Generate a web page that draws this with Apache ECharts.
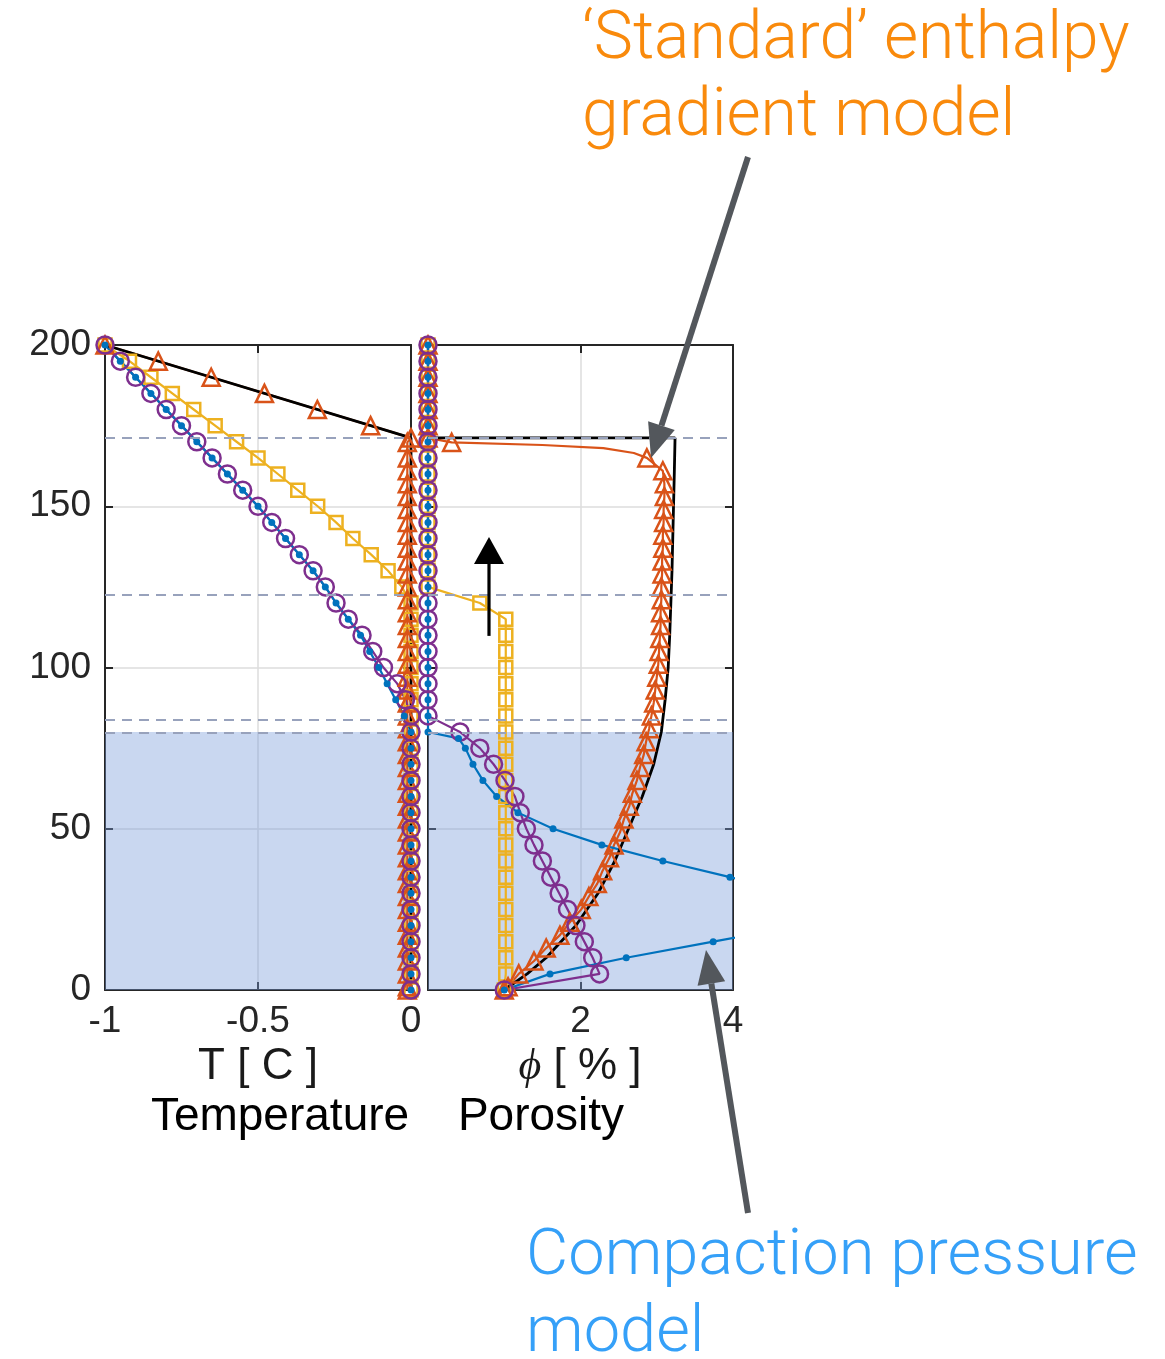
<!DOCTYPE html>
<html>
<head>
<meta charset="utf-8">
<script src="https://cdn.jsdelivr.net/npm/echarts@6/dist/echarts.min.js"></script>
<style>
  html, body { margin: 0; padding: 0; background: #fff; }
  #chart { width: 1165px; height: 1359px; }
</style>
</head>
<body>
<div id="chart"></div>
<script>
// ---- data (depth z in m, T in C, porosity in %) ----
const depthTicks = [0, 50, 100, 150, 200];
const dashedDepths = [171.2, 122.5, 83.8, 79.8];
const shadedDepth = [0, 80];

// common 5 m grid used by the yellow / purple / blue profiles
const depth5 = [200, 195, 190, 185, 180, 175, 170, 165, 160, 155, 150, 145, 140, 135, 130, 125, 120,
  115, 110, 105, 100, 95, 90, 85, 80, 75, 70, 65, 60, 55, 50, 45, 40, 35, 30, 25, 20, 15, 10, 5, 0];

const tempYellow = [-1, -0.92, -0.85, -0.78, -0.71, -0.64, -0.57, -0.5, -0.435, -0.37, -0.305, -0.245, -0.19,
  -0.13, -0.075, -0.03, 0, 0, 0, 0, 0, 0, 0, 0, 0, 0, 0, 0, 0, 0, 0, 0, 0, 0, 0, 0, 0, 0, 0, 0, 0];
const porYellow = [0, 0, 0, 0, 0, 0, 0, 0, 0, 0, 0, 0, 0, 0, 0, 0, 0.68, 1.02, 1.02, 1.02, 1.02, 1.02, 1.02,
  1.02, 1.02, 1.02, 1.02, 1.02, 1.02, 1.02, 1.02, 1.02, 1.02, 1.02, 1.02, 1.02, 1.02, 1.02, 1.02, 1.02, 1.0];

const tempPurple = [-1, -0.95, -0.9, -0.85, -0.8, -0.75, -0.7, -0.65, -0.6, -0.55, -0.5, -0.455, -0.41, -0.365,
  -0.32, -0.28, -0.245, -0.205, -0.16, -0.125, -0.09, -0.045, -0.018, 0, 0, 0, 0, 0, 0, 0, 0, 0, 0, 0, 0, 0, 0, 0, 0, 0, 0];
const porPurple = [0, 0, 0, 0, 0, 0, 0, 0, 0, 0, 0, 0, 0, 0, 0, 0, 0, 0, 0, 0, 0, 0, 0, 0, 0.42, 0.68, 0.86,
  1.01, 1.14, 1.21, 1.29, 1.39, 1.5, 1.61, 1.72, 1.83, 1.94, 2.05, 2.16, 2.25, 1.0];

const tempBlue = [-1, -0.95, -0.9, -0.85, -0.8, -0.75, -0.7, -0.65, -0.6, -0.55, -0.5, -0.455, -0.41, -0.365,
  -0.32, -0.28, -0.245, -0.205, -0.165, -0.135, -0.105, -0.078, -0.05, -0.022, 0, 0, 0, 0, 0, 0, 0, 0, 0, 0, 0, 0, 0, 0, 0, 0, 0];
const blueDepthR = [200, 195, 190, 185, 180, 175, 170, 165, 160, 155, 150, 145, 140, 135, 130, 125, 120,
  115, 110, 105, 100, 95, 90, 85, 80, 78, 75, 70, 65, 60, 55, 50, 45, 40, 35, 30, 25, 20, 15, 10, 5, 0];
const porBlue = [0, 0, 0, 0, 0, 0, 0, 0, 0, 0, 0, 0, 0, 0, 0, 0, 0, 0, 0, 0, 0, 0, 0, 0, 0, 0.4, 0.49, 0.59,
  0.72, 0.9, 1.18, 1.64, 2.28, 3.08, 3.96, 4.8, 5.6, 4.9, 3.74, 2.6, 1.6, 1.0];

// enthalpy-gradient model (orange triangles)
const orangeDepth = [200, 195, 190, 185, 180, 175, 171.2, 169.8, 169, 168, 166.5, 165, 161, 157, 153, 149, 145,
  141, 137, 133, 129, 125, 121, 117, 113, 109, 105, 101, 97, 93, 89, 85, 81, 77, 73, 69, 65, 61, 57, 53,
  49, 45, 41, 37, 33, 29, 25, 21, 17, 13, 9, 5, 1, 0];
const orangePlain = [169, 168, 166.5]; // line vertices drawn without a marker
const tempOrange = [-1, -0.826, -0.653, -0.479, -0.306, -0.132, 0, -0.012, -0.012, -0.012, -0.012, -0.012,
  -0.012, -0.012, -0.012, -0.012, -0.012, -0.012, -0.012, -0.012, -0.012, -0.012, -0.012, -0.012, -0.012,
  -0.012, -0.012, -0.012, -0.012, -0.012, -0.012, -0.012, -0.012, -0.012, -0.012, -0.012, -0.012, -0.012,
  -0.012, -0.012, -0.012, -0.012, -0.012, -0.012, -0.012, -0.012, -0.012, -0.012, -0.012, -0.012, -0.012,
  -0.012, -0.012, -0.012];
const porOrange = [0, 0, 0, 0, 0, 0, 0, 0.31, 1.5, 2.3, 2.7, 2.87, 3.08, 3.1, 3.1, 3.09, 3.09, 3.08, 3.08,
  3.07, 3.07, 3.06, 3.06, 3.05, 3.05, 3.04, 3.03, 3.02, 3.0, 2.98, 2.96, 2.93, 2.9, 2.86, 2.83, 2.78, 2.74,
  2.68, 2.64, 2.57, 2.52, 2.44, 2.38, 2.29, 2.22, 2.11, 2.01, 1.86, 1.73, 1.55, 1.39, 1.19, 1.05, 1.0];

// analytic solution (black)
const blackTemp = [[-1, 200], [0, 171.2], [0, 0]];
const blackPorDepth = [171.2, 171.2, 160, 150, 130, 110, 100, 90, 80, 70, 60, 50, 40, 30, 20, 10, 5, 0];
const blackPor = [0, 3.24, 3.23, 3.22, 3.2, 3.17, 3.15, 3.11, 3.06, 2.96, 2.81, 2.63, 2.45, 2.23, 1.94, 1.55, 1.3, 1.0];

// ---- chart ----
const COL = {
  blue: '#0072BD', orange: '#D95319', yellow: '#EDB120', purple: '#7E2F8E',
  axis: '#262626', grid: '#dcdcdc', dash: '#98a2bc', fill: 'rgba(120,155,217,0.4)'
};
const FONT = 'Liberation Sans, Arial, sans-serif';

const zip = (xs, zs) => xs.map((x, i) => [x, zs[i]]);
const orangeItems = (xs) => xs.map((x, i) => orangePlain.includes(orangeDepth[i])
  ? { value: [x, orangeDepth[i]], symbol: 'none' } : [x, orangeDepth[i]]);

const chart = echarts.init(document.getElementById('chart'), null, { renderer: 'canvas' });

function xAxis(gridIndex, min, max, interval, position, labels) {
  return {
    type: 'value', gridIndex, min, max, interval, position,
    axisLine: { show: true, onZero: false, lineStyle: { color: COL.axis, width: 2 } },
    axisTick: { show: true, inside: true, length: 8, lineStyle: { color: COL.axis, width: 2 } },
    axisLabel: labels ? {
      show: true, fontSize: 37, fontFamily: FONT, color: COL.axis, margin: 13,
      showMinLabel: true, showMaxLabel: true,
      formatter: v => (gridIndex === 1 && v === 0) ? '' : String(v)
    } : { show: false },
    splitLine: { show: labels, lineStyle: { color: COL.grid, width: 1.5 } }
  };
}
function yAxis(gridIndex, position, labels, grid) {
  return {
    type: 'value', gridIndex, min: 0, max: 200, interval: 50, position,
    axisLine: { show: true, onZero: false, lineStyle: { color: COL.axis, width: 2 } },
    axisTick: { show: true, inside: true, length: 8, lineStyle: { color: COL.axis, width: 2 } },
    axisLabel: labels ? { show: true, fontSize: 37, fontFamily: FONT, color: COL.axis, margin: 14 } : { show: false },
    splitLine: { show: grid, lineStyle: { color: COL.grid, width: 1.5 } }
  };
}

function profile(xi, yi, data, color, symbol, size, dots) {
  return {
    type: 'line', xAxisIndex: xi, yAxisIndex: yi, data,
    symbol, symbolSize: size, showAllSymbol: true, animation: false, clip: true,
    lineStyle: { color, width: 2.2 },
    itemStyle: dots ? { color, borderWidth: 0 }
      : { color: 'rgba(0,0,0,0)', borderColor: color, borderWidth: 2.5 },
    emphasis: { disabled: true }
  };
}

function backdrop(xi, yi) {
  return {
    type: 'line', xAxisIndex: xi, yAxisIndex: yi, data: [], silent: true, animation: false,
    markArea: {
      silent: true, itemStyle: { color: COL.fill },
      data: [[{ yAxis: shadedDepth[0] }, { yAxis: shadedDepth[1] }]]
    },
    markLine: {
      silent: true, symbol: ['none', 'none'], label: { show: false },
      lineStyle: { color: COL.dash, width: 2, type: [10, 7] },
      data: dashedDepths.map(d => ({ yAxis: d }))
    }
  };
}

const option = {
  backgroundColor: '#fff',
  animation: false,
  grid: [
    { left: 105, top: 345, width: 306, height: 645 },
    { left: 428, top: 345, width: 305, height: 645 }
  ],
  xAxis: [
    xAxis(0, -1, 0, 0.5, 'bottom', true),
    xAxis(0, -1, 0, 0.5, 'top', false),
    xAxis(1, 0, 4, 2, 'bottom', true),
    xAxis(1, 0, 4, 2, 'top', false)
  ],
  yAxis: [
    yAxis(0, 'left', true, true),
    yAxis(0, 'right', false, false),
    yAxis(1, 'left', false, true),
    yAxis(1, 'right', false, false)
  ],
  series: [
    backdrop(0, 0),
    backdrop(2, 2),
    // temperature panel
    profile(0, 0, zip(tempYellow, depth5), COL.yellow, 'rect', 13),
    profile(0, 0, orangeItems(tempOrange), COL.orange, 'triangle', 17),
    profile(0, 0, zip(tempPurple, depth5), COL.purple, 'circle', 17),
    profile(0, 0, zip(tempBlue, depth5), COL.blue, 'circle', 7, true),
    profile(0, 0, blackTemp, '#000', 'none', 0),
    // porosity panel
    profile(2, 2, zip(porYellow, depth5), COL.yellow, 'rect', 13),
    profile(2, 2, orangeItems(porOrange), COL.orange, 'triangle', 17),
    profile(2, 2, zip(porPurple, depth5), COL.purple, 'circle', 17),
    profile(2, 2, zip(porBlue, blueDepthR), COL.blue, 'circle', 7, true),
    profile(2, 2, zip(blackPor, blackPorDepth), '#000', 'none', 0)
  ]
};
option.series[6].lineStyle.width = 2.8;
option.series[11].lineStyle.width = 2.8;
chart.setOption(option);

// ---- annotations ----
function arrow(x1, y1, x2, y2, headLen, headHalf, width, color) {
  const len = Math.hypot(x2 - x1, y2 - y1);
  const ux = (x2 - x1) / len, uy = (y2 - y1) / len;
  const bx = x2 - ux * headLen, by = y2 - uy * headLen;
  return [
    { type: 'line', shape: { x1, y1, x2: bx, y2: by }, style: { stroke: color, lineWidth: width }, z: 50 },
    { type: 'polygon', shape: { points: [[x2, y2], [bx - uy * headHalf, by + ux * headHalf], [bx + uy * headHalf, by - ux * headHalf]] },
      style: { fill: color }, z: 50 }
  ];
}
function label(text, x, y, size, color, align, extra) {
  return {
    type: 'text', z: 50,
    style: Object.assign({
      text, x, y, fill: color, font: '300 ' + size + 'px Roboto, ' + FONT,
      align, verticalAlign: 'middle', textAlign: align, textVerticalAlign: 'middle'
    }, extra || {})
  };
}

const tail = chart.convertToPixel({ seriesIndex: 11 }, [0.8, 109.8]);
const tip = chart.convertToPixel({ seriesIndex: 11 }, [0.8, 140.5]);
const gray = '#53575c';

chart.setOption({
  graphic: [].concat(
    arrow(748, 157, 651, 458, 34, 14, 6, gray),
    arrow(748, 1213, 706, 950, 34, 14, 6, gray),
    arrow(tail[0], tail[1], tip[0], tip[1], 27, 15, 3.2, '#000'),
    [
      label('T [ C ]', 258, 1067, 44, '#1a1a1a', 'center', { font: '44px ' + FONT }),
      label('{p|ϕ} [ % ]', 580, 1067, 44, '#1a1a1a', 'center', {
        font: '44px ' + FONT,
        rich: { p: { fontFamily: 'Liberation Serif', fontStyle: 'italic', fontSize: 44, fill: '#1a1a1a' } }
      }),
      label('Temperature', 280, 1117, 46, '#000', 'center', { font: '46px ' + FONT }),
      label('Porosity', 541, 1117, 46, '#000', 'center', { font: '46px ' + FONT }),
      label('‘Standard’ enthalpy', 582, 41, 66, '#F98A0C', 'left'),
      label('gradient model', 582, 118, 66, '#F98A0C', 'left'),
      label('Compaction pressure', 526, 1258, 65, '#35A0F8', 'left'),
      label('model', 526, 1335, 65, '#35A0F8', 'left')
    ]
  )
});
</script>
</body>
</html>
